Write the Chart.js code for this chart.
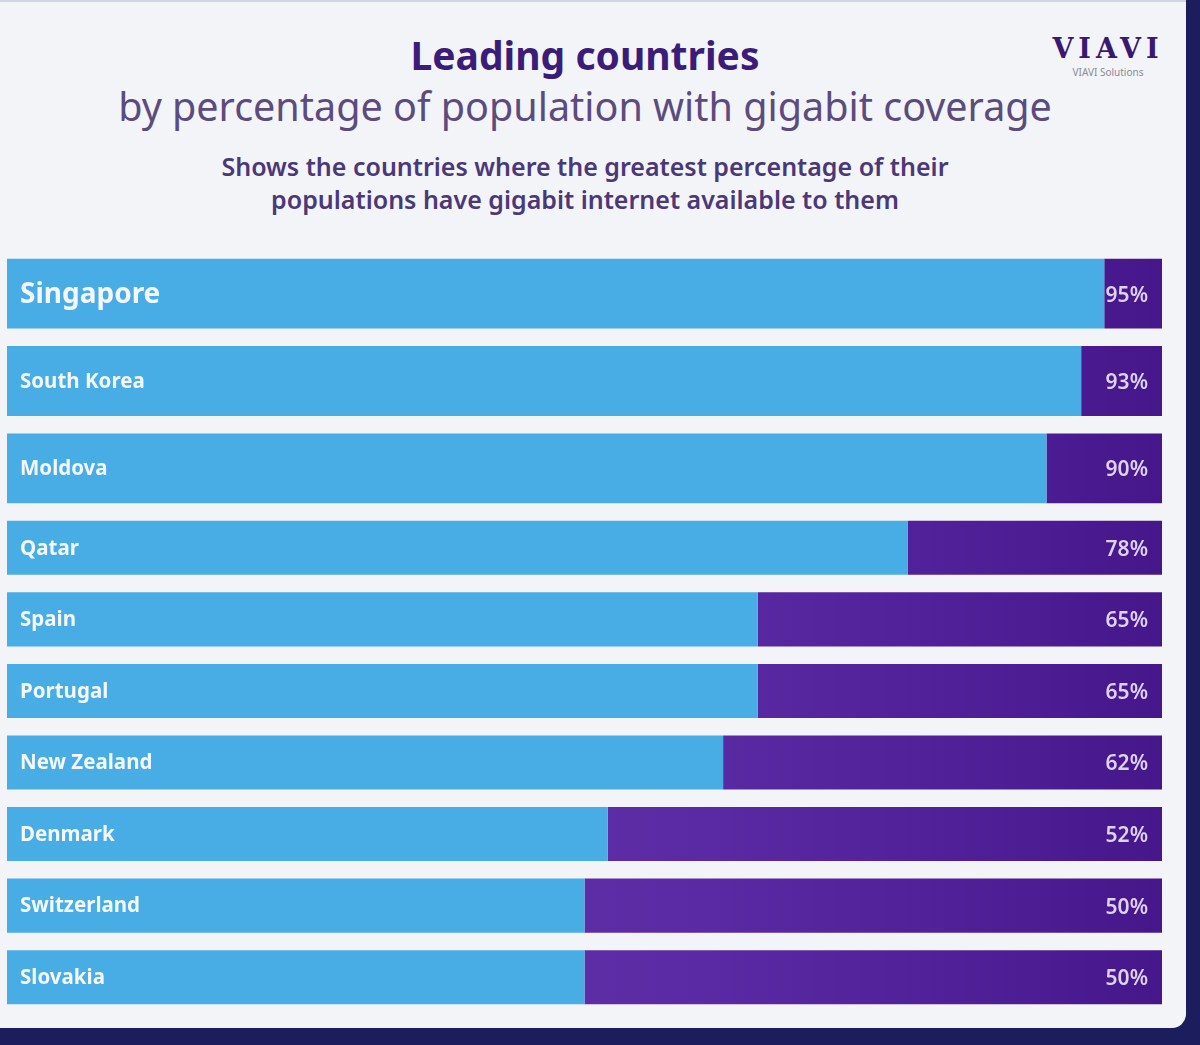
<!DOCTYPE html>
<html>
<head>
<meta charset="utf-8">
<script src="https://cdn.jsdelivr.net/npm/chart.js@4.4.0/dist/chart.umd.min.js"></script>
<style>
    html, body { margin: 0; padding: 0; }
    body { width: 1200px; height: 1045px; background: #1b1d5c; position: relative; overflow: hidden; font-family: "Noto Sans", sans-serif; }
    .card { position: absolute; left: 0; top: 0; width: 1186px; height: 1028px; background: #f3f4f7; border-bottom-right-radius: 14px; border-top: 2px solid #cfd6e4; box-sizing: border-box; }
    .titre { position: absolute; left: 0; width: 1170px; text-align: center; color: #3b1c78; }
    #t1 { top: 26px; font-size: 39px; font-weight: 700; }
    #t2 { top: 77px; font-size: 39.5px; color: #5b4b7e; }
    #t3 { top: 148px; font-size: 25px; font-weight: 600; line-height: 33px; color: #4a3878; }
    .logo { position: absolute; left: 1046px; top: 34px; width: 124px; text-align: center; }
    .logo .m { font-family: "DejaVu Serif", serif; font-weight: 700; font-size: 27px; letter-spacing: 5px; color: #3a1870; line-height: 26px; }
    .logo .s { font-size: 10px; color: #8a8a9a; margin-top: 3px; }
    .box { position: absolute; left: 7px; width: 1155px; }
</style>
</head>
<body>
<div class="card">
    <div class="titre" id="t1">Leading countries</div>
    <div class="titre" id="t2">by percentage of population with gigabit coverage</div>
    <div class="titre" id="t3">Shows the countries where the greatest percentage of their<br>populations have gigabit internet available to them</div>
    <div class="logo"><div class="m">VIAVI</div><div class="s">VIAVI Solutions</div></div>
    <div class="box" style="top:248px;height:262px"><canvas id="graficoTop"></canvas></div>
    <div class="box" style="top:510px;height:501px"><canvas id="graficoResto"></canvas></div>
</div>
<script>
var paesi = ['Singapore', 'South Korea', 'Moldova', 'Qatar', 'Spain', 'Portugal', 'New Zealand', 'Denmark', 'Switzerland', 'Slovakia'];
var copertura = [95, 93, 90, 78, 65, 65, 62, 52, 50, 50];
var totale = 100;
var quantiGrandi = 3; // the first three rows are drawn bigger

var blu = '#48ace5';

function viola(context) {
    var chart = context.chart;
    var area = chart.chartArea;
    if (!area) {
        return '#4f1f9a';
    }
    var g = chart.ctx.createLinearGradient(area.left, 0, area.right, 0);
    g.addColorStop(0, '#6a3cae');
    g.addColorStop(0.6, '#5a2aa4');
    g.addColorStop(0.9, '#4b1c92');
    g.addColorStop(1, '#46178a');
    return g;
}

var etichette = {
    id: 'etichette',
    afterDatasetsDraw: function (chart) {
        var ctx = chart.ctx;
        var meta = chart.getDatasetMeta(0);
        var area = chart.chartArea;
        var grandi = chart.options.plugins.etichette.grandi;
        ctx.save();
        ctx.textBaseline = 'middle';
        for (var i = 0; i < meta.data.length; i++) {
            var y = meta.data[i].y;
            var nome = chart.data.labels[i];
            ctx.fillStyle = '#f4f8fc';
            ctx.textAlign = 'left';
            if (grandi && i === 0) {
                ctx.font = 'bold 28px "Noto Sans", sans-serif';
            } else {
                ctx.font = 'bold 20.5px "Noto Sans", sans-serif';
            }
            ctx.fillText(nome, area.left + 13, y + 1);
            ctx.fillStyle = '#ddd2f2';
            ctx.textAlign = 'right';
            ctx.font = '600 21px "Noto Sans", sans-serif';
            ctx.fillText(chart.data.datasets[0].data[i] + '%', area.right - 14, y + 2);
        }
        ctx.restore();
    }
};

function creaGrafico(id, da, a, spessore, grandi) {
    var valori = copertura.slice(da, a);
    var resto = [];
    for (var i = 0; i < valori.length; i++) {
        resto.push(totale - valori[i]);
    }
    return new Chart(document.getElementById(id), {
        type: 'bar',
        data: {
            labels: paesi.slice(da, a),
            datasets: [{
                data: valori,
                backgroundColor: blu,
                barPercentage: spessore,
                categoryPercentage: 1
            }, {
                data: resto,
                backgroundColor: viola,
                barPercentage: spessore,
                categoryPercentage: 1
            }]
        },
        options: {
            indexAxis: 'y',
            responsive: true,
            maintainAspectRatio: false,
            animation: false,
            layout: { padding: 0 },
            scales: {
                x: { stacked: true, min: 0, max: totale, display: false },
                y: { stacked: true, display: false }
            },
            plugins: {
                legend: { display: false },
                tooltip: { enabled: false },
                etichette: { grandi: grandi }
            }
        },
        plugins: [etichette]
    });
}

creaGrafico('graficoTop', 0, quantiGrandi, 0.80, true);
creaGrafico('graficoResto', quantiGrandi, paesi.length, 0.755, false);
</script>
</body>
</html>
